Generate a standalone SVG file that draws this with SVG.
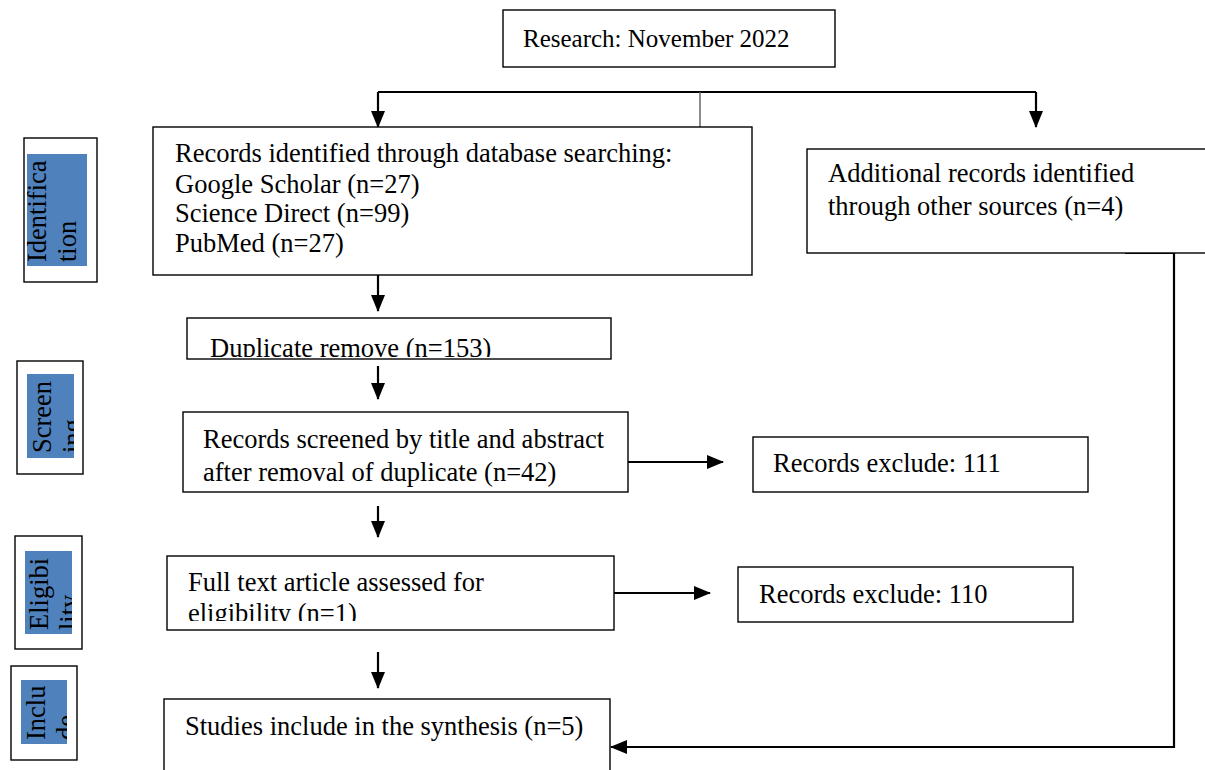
<svg xmlns="http://www.w3.org/2000/svg" width="1205" height="770" viewBox="0 0 1205 770">
<style>
text{font-family:"Liberation Serif","Times New Roman",serif;font-size:26.5px;fill:#000}
.box{fill:#fff;stroke:#000;stroke-width:1.4}
.lab{fill:#4f81bd}
.c{stroke:#000;stroke-width:2.2;fill:none}
</style>
<defs>
<marker id="ah" markerWidth="17" markerHeight="14" refX="16" refY="7" orient="auto" markerUnits="userSpaceOnUse"><path d="M0,0 L17,7 L0,14 z" fill="#000"/></marker>
<clipPath id="cDup"><rect x="187" y="318" width="424" height="39"/></clipPath>
<clipPath id="cFull"><rect x="167" y="556" width="447" height="65"/></clipPath>
<clipPath id="cId"><rect x="22" y="154" width="65" height="112"/></clipPath>
<clipPath id="cSc"><rect x="27" y="374" width="47" height="84"/></clipPath>
<clipPath id="cEl"><rect x="25" y="551" width="47" height="83"/></clipPath>
<clipPath id="cIn"><rect x="21" y="680" width="46" height="64"/></clipPath>
</defs>
<rect width="1205" height="770" fill="#fff"/>
<g id="label-identification">
<rect class="box" x="24" y="138" width="73" height="144"/>
<rect class="lab" x="27" y="154" width="60" height="112"/>
<g clip-path="url(#cId)"><text transform="translate(46,262) rotate(-90)">Identifica</text><text transform="translate(76,262) rotate(-90)">tion</text></g>
</g>
<g id="label-screening">
<rect class="box" x="17" y="361" width="66" height="113"/>
<rect class="lab" x="27" y="374" width="47" height="84"/>
<g clip-path="url(#cSc)"><text transform="translate(51,453) rotate(-90)">Screen</text><text transform="translate(81,453) rotate(-90)">ing</text></g>
</g>
<g id="label-eligibility">
<rect class="box" x="15" y="536" width="67" height="113"/>
<rect class="lab" x="25" y="551" width="47" height="83"/>
<g clip-path="url(#cEl)"><text transform="translate(48,630) rotate(-90)">Eligibi</text><text transform="translate(78,630) rotate(-90)">lity</text></g>
</g>
<g id="label-included">
<rect class="box" x="11" y="666" width="66" height="94"/>
<rect class="lab" x="21" y="680" width="46" height="64"/>
<g clip-path="url(#cIn)"><text transform="translate(45,740) rotate(-90)">Inclu</text><text transform="translate(75,740) rotate(-90)">de</text></g>
</g>
<g id="connectors">
<path class="c" d="M378,92 H1036"/>
<path d="M700,92 V128" stroke="#666" stroke-width="1.5" fill="none"/>
<path class="c" d="M378,92 V127" marker-end="url(#ah)"/>
<path class="c" d="M1036,92 V127" marker-end="url(#ah)"/>
<path class="c" d="M378,275 V311" marker-end="url(#ah)"/>
<path class="c" d="M378,366 V399" marker-end="url(#ah)"/>
<path class="c" d="M378,506 V537" marker-end="url(#ah)"/>
<path class="c" d="M378,652 V688" marker-end="url(#ah)"/>
<path class="c" d="M625,462 H723" marker-end="url(#ah)"/>
<path class="c" d="M612,593 H710" marker-end="url(#ah)"/>
<path class="c" d="M1125,253 H1174 V747 H611" marker-end="url(#ah)" stroke-width="2.5"/>
</g>
<g id="research">
<rect class="box" x="503" y="10" width="332" height="57"/>
<text x="523" y="47" style="font-size:25px">Research: November 2022</text>
</g>
<g id="records-identified">
<rect class="box" x="153" y="127" width="599" height="148"/>
<text x="175" y="162">Records identified through database searching:</text>
<text x="175" y="193">Google Scholar (n=27)</text>
<text x="175" y="222">Science Direct (n=99)</text>
<text x="175" y="252">PubMed (n=27)</text>
</g>
<g id="additional-records">
<rect class="box" x="807" y="149" width="410" height="104"/>
<text x="828" y="182">Additional records identified</text>
<text x="828" y="215">through other sources (n=4)</text>
</g>
<g id="duplicate">
<rect class="box" x="187" y="318" width="424" height="41"/>
<text x="210" y="357" clip-path="url(#cDup)">Duplicate remove (n=153)</text>
</g>
<g id="screened">
<rect class="box" x="183" y="412" width="445" height="80"/>
<text x="203" y="448">Records screened by title and abstract</text>
<text x="203" y="481">after removal of duplicate (n=42)</text>
</g>
<g id="exclude-111">
<rect class="box" x="753" y="437" width="335" height="55"/>
<text x="773" y="472">Records exclude: 111</text>
</g>
<g id="fulltext">
<rect class="box" x="167" y="556" width="447" height="74"/>
<text x="188" y="591">Full text article assessed for</text>
<text x="188" y="622" clip-path="url(#cFull)">eligibility (n=1)</text>
</g>
<g id="exclude-110">
<rect class="box" x="738" y="567" width="335" height="55"/>
<text x="759" y="603">Records exclude: 110</text>
</g>
<g id="studies">
<rect class="box" x="164" y="699" width="446" height="80"/>
<text x="185" y="735">Studies include in the synthesis (n=5)</text>
</g>
</svg>
